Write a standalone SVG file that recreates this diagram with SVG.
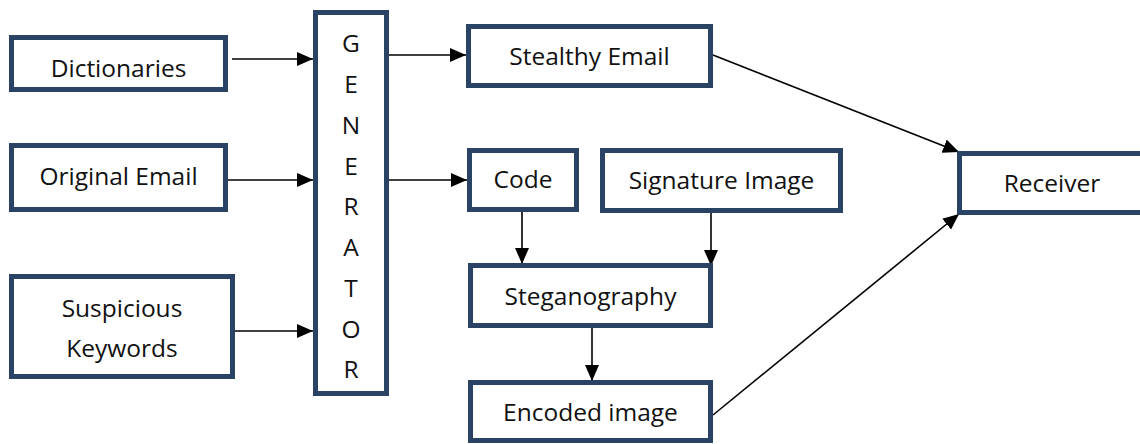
<svg xmlns="http://www.w3.org/2000/svg" width="1140" height="444" viewBox="0 0 1140 444">
  <style>
    .box { fill: #ffffff; stroke: #2a4365; stroke-width: 5; }
    .lbl { font-family: "Open Sans", "Liberation Sans", sans-serif; font-size: 24.5px; fill: #111111; text-anchor: middle; }
    .edge { stroke: #000000; stroke-width: 1.6; fill: none; marker-end: url(#arrow); }
  </style>
  <defs>
    <marker id="arrow" markerUnits="userSpaceOnUse" markerWidth="16" markerHeight="14" refX="16" refY="7" orient="auto">
      <path d="M0,0 L16,7 L0,14 Z" fill="#000000"/>
    </marker>
  </defs>
  <rect width="1140" height="444" fill="#ffffff"/>

  <g id="connectors">
    <line class="edge" x1="232" y1="59" x2="313" y2="59"/>
    <line class="edge" x1="226" y1="180" x2="313" y2="180"/>
    <line class="edge" x1="233" y1="331" x2="313" y2="331"/>
    <line class="edge" x1="389" y1="55" x2="466" y2="55"/>
    <line class="edge" x1="389" y1="180" x2="467" y2="180"/>
    <line class="edge" x1="522" y1="212" x2="522" y2="264"/>
    <line class="edge" x1="711" y1="213" x2="711" y2="266"/>
    <line class="edge" x1="592" y1="328" x2="592" y2="381"/>
    <line class="edge" x1="713" y1="55" x2="959" y2="152"/>
    <line class="edge" x1="713" y1="415" x2="959" y2="214"/>
  </g>

  <g id="dictionaries">
    <rect class="box" x="11.5" y="37.5" width="214" height="52"/>
    <text class="lbl" x="118.5" y="77">Dictionaries</text>
  </g>
  <g id="original-email">
    <rect class="box" x="11.5" y="145.5" width="214" height="64"/>
    <text class="lbl" x="118.5" y="185">Original Email</text>
  </g>
  <g id="suspicious-keywords">
    <rect class="box" x="11.5" y="276.5" width="221" height="100"/>
    <text class="lbl" x="122" y="317">Suspicious</text>
    <text class="lbl" x="122" y="357">Keywords</text>
  </g>
  <g id="generator">
    <rect class="box" x="315.5" y="12.5" width="71" height="381"/>
    <text class="lbl" x="351" y="52">G</text>
    <text class="lbl" x="351" y="93">E</text>
    <text class="lbl" x="351" y="134">N</text>
    <text class="lbl" x="351" y="175">E</text>
    <text class="lbl" x="351" y="215">R</text>
    <text class="lbl" x="351" y="256">A</text>
    <text class="lbl" x="351" y="297">T</text>
    <text class="lbl" x="351" y="338">O</text>
    <text class="lbl" x="351" y="378">R</text>
  </g>
  <g id="stealthy-email">
    <rect class="box" x="468.5" y="26.5" width="242" height="59"/>
    <text class="lbl" x="589.5" y="65">Stealthy Email</text>
  </g>
  <g id="code">
    <rect class="box" x="469.5" y="150.5" width="107" height="59"/>
    <text class="lbl" x="523" y="188">Code</text>
  </g>
  <g id="signature-image">
    <rect class="box" x="602.5" y="150.5" width="238" height="60"/>
    <text class="lbl" x="721.5" y="189">Signature Image</text>
  </g>
  <g id="steganography">
    <rect class="box" x="470.5" y="265.5" width="240" height="60"/>
    <text class="lbl" x="590.5" y="305">Steganography</text>
  </g>
  <g id="encoded-image">
    <rect class="box" x="470.5" y="382.5" width="240" height="58"/>
    <text class="lbl" x="590.5" y="421">Encoded image</text>
  </g>
  <g id="receiver">
    <rect class="box" x="959.5" y="153.5" width="200" height="59"/>
    <text class="lbl" x="1052" y="192">Receiver</text>
  </g>
</svg>
